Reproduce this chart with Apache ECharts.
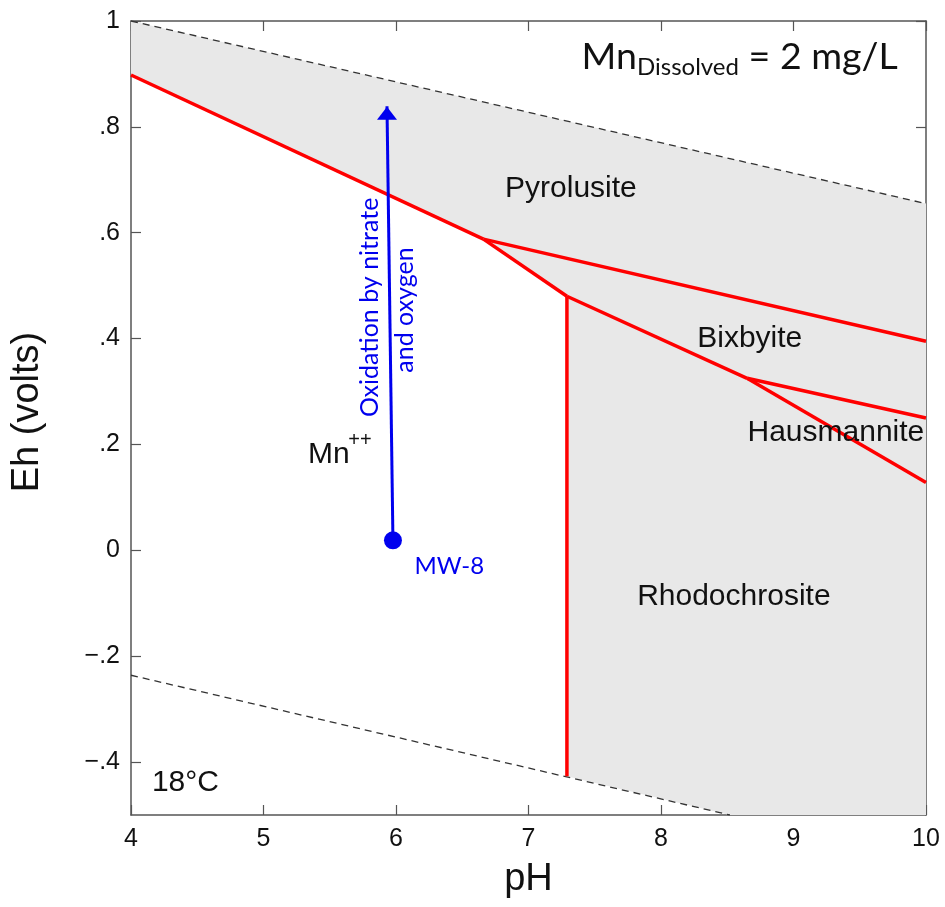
<!DOCTYPE html>
<html>
<head>
<meta charset="utf-8">
<script src="https://cdn.jsdelivr.net/npm/echarts@6/dist/echarts.min.js"></script>
<style>html,body{margin:0;padding:0;background:#fff}#c{width:945px;height:907px}</style>
</head>
<body>
<div id="c"></div>
<script>
// ---- data ----
const phTicks = [4, 5, 6, 7, 8, 9, 10];
const ehTickValues = [-0.4, -0.2, 0, 0.2, 0.4, 0.6, 0.8, 1];
const ehTickLabels = ['\u2212.4', '\u2212.2', '0', '.2', '.4', '.6', '.8', '1'];

const waterUpper = [[4, 1.0], [10, 0.655]];
const waterLower = [[4, -0.236], [8.52, -0.5]];
const mnPyrolusite = [[4, 0.898], [6.66, 0.588]];
const pyrolusiteBixbyite = [[6.66, 0.588], [10, 0.395]];
const mnBixbyite = [[6.66, 0.588], [7.29, 0.480]];
const rhodoBixbyite = [[7.29, 0.480], [8.65, 0.325]];
const rhodoHausmannite = [[8.65, 0.325], [10, 0.128]];
const bixbyiteHausmannite = [[8.65, 0.325], [10, 0.250]];
const mnRhodochrosite = [[7.29, 0.480], [7.29, -0.427]];
const solidField = [[4, 1.0], [10, 0.655], [10, -0.5], [8.52, -0.5], [7.29, -0.427], [7.29, 0.480], [6.66, 0.588], [4, 0.898]];

const sampleMW8 = [5.977, 0.019];
const oxidationPath = [[5.977, 0.019], [5.932, 0.839]];

// annotation anchors (data coords)
const regionLabels = [
  { text: 'Pyrolusite', at: [7.32, 0.684] },
  { text: 'Bixbyite', at: [8.67, 0.399] },
  { text: 'Hausmannite', at: [9.32, 0.223] },
  { text: 'Rhodochrosite', at: [8.55, -0.087] }
];

// ---- chart ----
const chart = echarts.init(document.getElementById('c'));
const AR = 'Liberation Sans, Arial, sans-serif';
const CAL = 'Lato, Carlito, sans-serif';
const axisColor = '#555';
const ink = '#111';
const blue = '#0000ee';

function ehFmt(v) {
  for (let i = 0; i < ehTickValues.length; i++) if (Math.abs(ehTickValues[i] - v) < 1e-6) return ehTickLabels[i];
  return '';
}

function lineSeries(data, color, width, dashed) {
  return {
    type: 'line', data: data, symbol: 'none', silent: true, animation: false,
    lineStyle: { color: color, width: width, type: dashed ? [7, 5] : 'solid' },
    z: 3
  };
}

const labelData = regionLabels.map(r => ({
  value: r.at,
  label: { show: true, position: 'inside', formatter: r.text, fontFamily: AR, fontSize: 30, color: ink }
}));
labelData.push({ value: [5.336, 0.181], label: { show: true, position: 'right', distance: 0, formatter: 'Mn', fontFamily: AR, fontSize: 30, color: ink } });
labelData.push({ value: [5.64, 0.207], label: { show: true, position: 'right', distance: 0, formatter: '++', fontFamily: AR, fontSize: 20, color: ink } });
labelData.push({ value: [4.158, -0.439], label: { show: true, position: 'right', distance: 0, formatter: '18°C', fontFamily: AR, fontSize: 30, color: ink } });
labelData.push({ value: [6.14, -0.030], label: { show: true, position: 'right', distance: 0, formatter: 'MW-8', fontFamily: CAL, fontSize: 24, color: blue } });
labelData.push({ value: [5.80, 0.459], label: { show: true, position: 'inside', rotate: 90, formatter: 'Oxidation by nitrate', fontFamily: CAL, fontSize: 25, color: blue } });
labelData.push({ value: [6.07, 0.454], label: { show: true, position: 'inside', rotate: 90, formatter: 'and oxygen', fontFamily: CAL, fontSize: 25, color: blue } });
labelData.push({
  value: [7.40, 0.932],
  label: {
    show: true, position: 'right', distance: 0,
    formatter: '{a|Mn}{b|Dissolved}{a| = 2 mg/L}',
    rich: {
      a: { fontFamily: CAL, fontSize: 37.5, lineHeight: 42, color: ink },
      b: { fontFamily: CAL, fontSize: 24, lineHeight: 21, padding: [21, 0, 0, 0], color: ink }
    }
  }
});

const option = {
  animation: false,
  backgroundColor: '#fff',
  grid: { left: 131, right: 19, top: 21, bottom: 92, containLabel: false },
  xAxis: [{
    type: 'value', min: 4, max: 10, interval: 1,
    name: 'pH', nameLocation: 'middle', nameGap: 46,
    nameTextStyle: { fontFamily: AR, fontSize: 38, color: ink },
    axisLine: { show: true, onZero: false, lineStyle: { color: axisColor, width: 1.5 } },
    axisTick: { show: true, inside: true, length: 10, lineStyle: { color: axisColor, width: 1.2 } },
    axisLabel: { fontFamily: AR, fontSize: 25, color: ink, margin: 12, formatter: v => phTicks.includes(v) ? String(v) : '' },
    splitLine: { show: false }
  }, {
    type: 'value', min: 4, max: 10, interval: 1, position: 'top',
    axisLine: { show: true, onZero: false, lineStyle: { color: axisColor, width: 1.5 } },
    axisTick: { show: true, inside: true, length: 10, lineStyle: { color: axisColor, width: 1.2 } },
    axisLabel: { show: false }, splitLine: { show: false }
  }],
  yAxis: [{
    type: 'value', min: -0.5, max: 1,
    name: 'Eh (volts)', nameLocation: 'middle', nameGap: 84, nameRotate: 90,
    nameTextStyle: { fontFamily: AR, fontSize: 38, color: ink, padding: [0, 0, 0, 12] },
    axisLine: { show: true, onZero: false, lineStyle: { color: axisColor, width: 1.5 } },
    axisTick: { show: true, inside: true, length: 10, customValues: ehTickValues, lineStyle: { color: axisColor, width: 1.2 } },
    axisLabel: { fontFamily: AR, fontSize: 25, color: ink, margin: 11, customValues: ehTickValues, formatter: ehFmt },
    splitLine: { show: false }
  }, {
    type: 'value', min: -0.5, max: 1, position: 'right',
    axisLine: { show: true, onZero: false, lineStyle: { color: axisColor, width: 1.5 } },
    axisTick: { show: true, inside: true, length: 10, customValues: ehTickValues, lineStyle: { color: axisColor, width: 1.2 } },
    axisLabel: { show: false }, splitLine: { show: false }
  }],
  series: [
    {
      type: 'custom', silent: true, z: 1, clip: true,
      data: [0],
      renderItem: function (params, api) {
        const pts = solidField.map(p => api.coord(p));
        return { type: 'polygon', shape: { points: pts }, style: { fill: '#e8e8e8', stroke: null } };
      }
    },
    lineSeries(waterUpper, '#333', 1.3, true),
    lineSeries(waterLower, '#333', 1.3, true),
    lineSeries(mnPyrolusite, '#ff0000', 3.5),
    lineSeries(pyrolusiteBixbyite, '#ff0000', 3.5),
    lineSeries(mnBixbyite, '#ff0000', 3.5),
    lineSeries(rhodoBixbyite, '#ff0000', 3.5),
    lineSeries(rhodoHausmannite, '#ff0000', 3.5),
    lineSeries(bixbyiteHausmannite, '#ff0000', 3.5),
    lineSeries(mnRhodochrosite, '#ff0000', 3.5),
    Object.assign(lineSeries(oxidationPath, blue, 3), { z: 5 }),
    {
      type: 'scatter', silent: true, z: 6,
      data: [{ value: oxidationPath[1], symbol: 'triangle', symbolSize: [20, 13], symbolOffset: [0, 7] }],
      itemStyle: { color: blue, opacity: 1 }
    },
    {
      type: 'scatter', silent: true, z: 6,
      data: [sampleMW8], symbol: 'circle', symbolSize: 18,
      itemStyle: { color: blue, opacity: 1 }
    },
    {
      type: 'scatter', silent: true, z: 7, symbolSize: 0,
      itemStyle: { opacity: 1 },
      data: labelData
    }
  ]
};
chart.setOption(option);
</script>
</body>
</html>
